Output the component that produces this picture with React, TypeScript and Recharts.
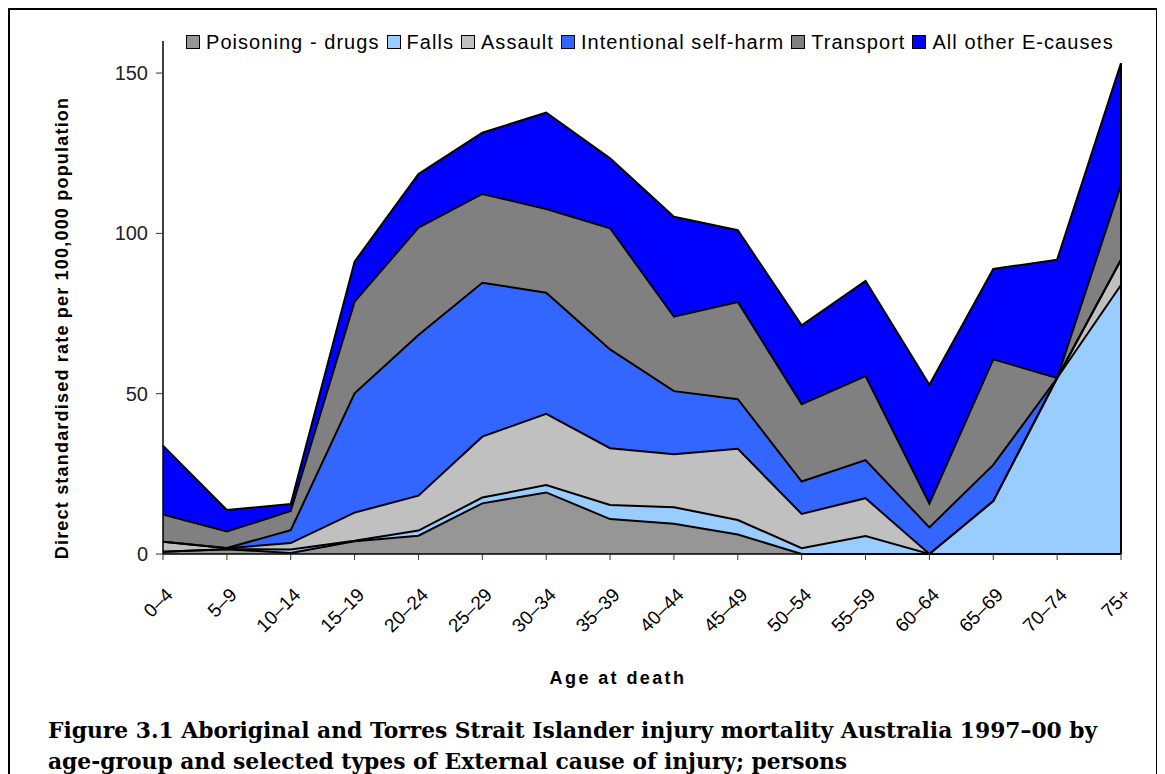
import React from "react";
import { AreaChart, Area, XAxis, YAxis, ReferenceLine } from "recharts";

// age groups along the x axis
const ages = [
  "0–4", "5–9", "10–14", "15–19", "20–24", "25–29", "30–34", "35–39",
  "40–44", "45–49", "50–54", "55–59", "60–64", "65–69", "70–74", "75+",
];

// rate per 100,000 for each cause (stacked bottom to top)
const poisoning = [0.7, 1.5, 0.3, 4.0, 5.7, 15.8, 19.2, 10.9, 9.4, 6.1, 0, 0, 0, 0, 0, 0];
const falls = [0, 0, 1.1, 0.1, 1.6, 1.8, 2.3, 4.4, 5.2, 4.5, 1.8, 5.6, 0, 16.5, 54.9, 83.9];
const assault = [3.1, 0.3, 2.0, 8.8, 10.9, 19.0, 22.2, 17.7, 16.5, 22.2, 10.7, 11.8, 0, 0, 0, 7.9];
const selfHarm = [0, 0.1, 4.0, 37.2, 50.1, 48.0, 37.8, 30.8, 19.7, 15.5, 10.1, 11.9, 8.3, 11.3, 0, 0];
const transport = [8.5, 5.1, 6.0, 28.6, 33.5, 27.7, 26.1, 37.8, 23.2, 30.3, 24.1, 26.2, 7.4, 32.9, 0, 23.4];
const otherCauses = [21.5, 6.7, 2.2, 12.5, 16.7, 19.1, 30.1, 21.8, 31.2, 22.4, 24.6, 29.7, 37.1, 28.2, 36.9, 37.9];

const yTicks = [0, 50, 100, 150];

const series = [
  { key: "poisoning", name: "Poisoning - drugs", color: "#969696", values: poisoning },
  { key: "falls", name: "Falls", color: "#99CCFF", values: falls },
  { key: "assault", name: "Assault", color: "#C0C0C0", values: assault },
  { key: "selfHarm", name: "Intentional self-harm", color: "#3366FF", values: selfHarm },
  { key: "transport", name: "Transport", color: "#808080", values: transport },
  { key: "other", name: "All other E-causes", color: "#0000FF", values: otherCauses },
];

const data = ages.map((age, i) => {
  const row: { [k: string]: string | number } = { age };
  series.forEach((s) => (row[s.key] = s.values[i]));
  return row;
});

const lastTotal = series.reduce((acc, s) => acc + s.values[ages.length - 1], 0);

const FONT = "'Liberation Sans', Arial, sans-serif";

const AgeTick = (props: any) => {
  const { x, y, payload } = props;
  const tx = x + 11;
  const ty = y + 34;
  return (
    <text
      x={tx}
      y={ty}
      transform={`rotate(-45 ${tx} ${ty})`}
      textAnchor="end"
      fontSize={19}
      fontFamily={FONT}
      fill="#000"
    >
      {payload.value}
    </text>
  );
};

export default function App() {
  return (
    <div
      style={{
        position: "relative",
        width: 1150,
        height: 800,
        border: "2px solid #000",
        boxSizing: "border-box",
        background: "#fff",
      }}
    >
      {/* legend */}
      <div
        style={{
          position: "absolute",
          left: 176,
          top: 20,
          display: "flex",
          alignItems: "center",
          fontFamily: FONT,
          fontSize: 20,
          letterSpacing: 1.05,
          lineHeight: "24px",
          whiteSpace: "nowrap",
        }}
      >
        {series.map((s) => (
          <span key={s.key} style={{ display: "flex", alignItems: "center", marginRight: 7 }}>
            <span
              style={{
                display: "inline-block",
                width: 12,
                height: 12,
                background: s.color,
                border: "1px solid #000",
                marginRight: 6,
              }}
            />
            {s.name}
          </span>
        ))}
      </div>

      <AreaChart
        width={1146}
        height={650}
        data={data}
        margin={{ top: 31, right: 35, left: 93, bottom: 46 }}
      >
        <XAxis
          dataKey="age"
          interval={0}
          height={60}
          tick={<AgeTick />}
          tickSize={6}
          axisLine={{ stroke: "#000", strokeWidth: 1.5 }}
          tickLine={{ stroke: "#333" }}
        />
        <YAxis
          width={60}
          domain={[0, 160]}
          ticks={yTicks}
          tickSize={7}
          tickMargin={8}
          axisLine={{ stroke: "#000", strokeWidth: 1.5 }}
          tickLine={{ stroke: "#333" }}
          tick={{ fontSize: 20, fill: "#222", fontFamily: FONT }}
        />
        {series.map((s) => (
          <Area
            key={s.key}
            type="linear"
            dataKey={s.key}
            name={s.name}
            stackId="fill"
            fill={s.color}
            fillOpacity={1}
            stroke="none"
            isAnimationActive={false}
          />
        ))}
        {series.map((s) => (
          <Area
            key={s.key + "-edge"}
            type="linear"
            dataKey={s.key}
            stackId="edge"
            fill="none"
            stroke="#000"
            strokeWidth={2}
            legendType="none"
            isAnimationActive={false}
          />
        ))}
        <ReferenceLine
          segment={[
            { x: ages[ages.length - 1], y: 0 },
            { x: ages[ages.length - 1], y: lastTotal },
          ]}
          stroke="#000"
          strokeWidth={2}
        />
      </AreaChart>

      {/* y axis title */}
      <div
        style={{
          position: "absolute",
          left: 52,
          top: 318,
          transform: "translate(-50%, -50%) rotate(-90deg)",
          fontFamily: FONT,
          fontWeight: "bold",
          fontSize: 18,
          letterSpacing: 1.2,
          whiteSpace: "nowrap",
        }}
      >
        Direct standardised rate per 100,000 population
      </div>

      {/* x axis title */}
      <div
        style={{
          position: "absolute",
          left: 608,
          top: 668,
          transform: "translate(-50%, -50%)",
          fontFamily: FONT,
          fontWeight: "bold",
          fontSize: 18,
          letterSpacing: 2.4,
          whiteSpace: "nowrap",
        }}
      >
        Age at death
      </div>

      {/* caption */}
      <div
        style={{
          position: "absolute",
          left: 38,
          top: 705,
          fontFamily: "'DejaVu Serif', serif",
          fontWeight: "bold",
          fontSize: 21.8,
          lineHeight: "31px",
          whiteSpace: "nowrap",
        }}
      >
        Figure 3.1 Aboriginal and Torres Strait Islander injury mortality Australia 1997–00 by
        <br />
        age-group and selected types of External cause of injury; persons
      </div>
    </div>
  );
}
